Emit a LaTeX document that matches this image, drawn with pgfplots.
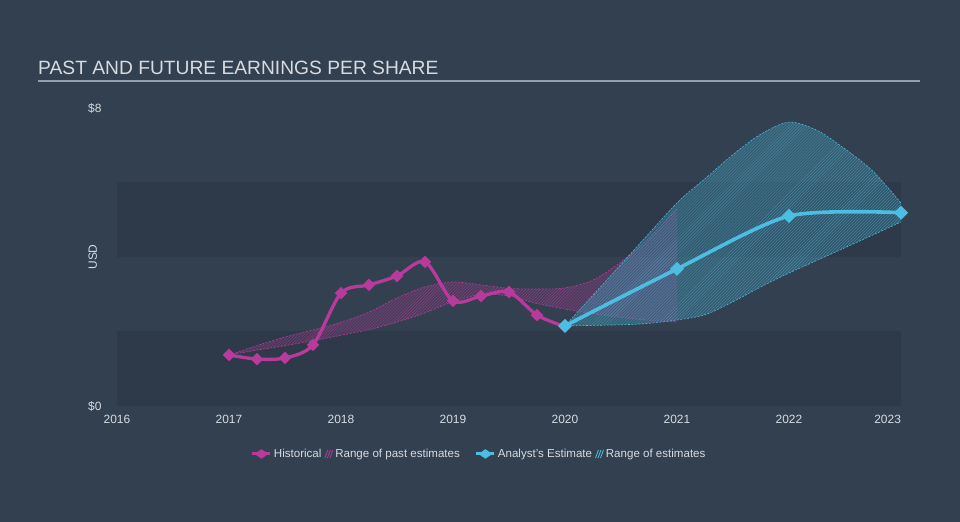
\documentclass[border=0pt]{standalone}
\usepackage{fontspec}
\setmainfont{Liberation Sans}
\usepackage{pgfplots}
\pgfplotsset{compat=1.18}
\usepgfplotslibrary{fillbetween}
\usetikzlibrary{patterns}
\definecolor{bg}{RGB}{51,64,80}
\definecolor{band}{RGB}{46,58,73}
\definecolor{histc}{RGB}{184,58,155}
\definecolor{estc}{RGB}{76,190,226}
\definecolor{txt}{RGB}{215,219,224}
\definecolor{axisc}{RGB}{150,160,172}

\begin{document}
\begin{tikzpicture}[x=1bp,y=1bp]
% background and stripes
\fill[bg] (0,0) rectangle (960,522);
\fill[band] (117,116) rectangle (901,190.5);
\fill[band] (117,265) rectangle (901,339.5);
% title
\node[anchor=base west, text=txt, inner sep=0, font=\fontsize{19.3}{22}\selectfont] at (38,447) {PAST AND FUTURE EARNINGS PER SHARE};
\draw[axisc, line width=1.5bp] (38,441) -- (920,441);

\begin{axis}[
    at={(117bp,116bp)}, anchor=south west,
    scale only axis, width=784bp, height=298bp,
    xmin=2016, xmax=2023, ymin=0, ymax=8,
    axis x line*=bottom, axis y line*=left,
    x axis line style={-, axisc, line width=1bp},
    y axis line style={draw=none},
    xtick={2016,...,2023},
    xticklabels={2016,2017,2018,2019,2020,2021,2022,\hbox to 0pt{\hss 2023}},
    xtick style={axisc, line width=1bp},
    tick align=outside, major tick length=6bp,
    ytick={0,8}, yticklabels={\$0,\$8},
    ytick style={draw=none},
    xticklabel style={text=txt, font=\fontsize{12}{14}\selectfont},
    yticklabel style={text=txt, font=\fontsize{12}{14}\selectfont, xshift=-6bp},
    ylabel={USD},
    ylabel style={at={(axis description cs:-0.031,0.5)}, anchor=center, text=txt, font=\fontsize{12}{14}\selectfont},
    legend style={at={(axis description cs:0.462,-0.161)}, anchor=center,
        draw=none, fill=none, text=txt, font=\fontsize{11.6}{13}\selectfont,
        /tikz/every even column/.append style={column sep=1bp}},
    legend columns=4,
    legend cell align=left,
    clip=false,
]

% legend entries
\addlegendimage{legend image code/.code={
    \draw[histc, line width=3bp] (0bp,0bp) -- (18bp,0bp);
    \fill[histc] (9bp,0bp) +(-6.5bp,0bp) -- +(0bp,4.5bp) -- +(6.5bp,0bp) -- +(0bp,-4.5bp) -- cycle;}}
\addlegendentry{Historical}
\addlegendimage{legend image code/.code={
    \draw[histc, line width=0.8bp] (0bp,-4bp) -- (3bp,4bp) (2.5bp,-4bp) -- (5.5bp,4bp) (5bp,-4bp) -- (8bp,4bp);}}
\addlegendentry{Range of past estimates\rule{12bp}{0pt}}
\addlegendimage{legend image code/.code={
    \draw[estc, line width=3bp] (0bp,0bp) -- (18bp,0bp);
    \fill[estc] (9bp,0bp) +(-6.5bp,0bp) -- +(0bp,4.5bp) -- +(6.5bp,0bp) -- +(0bp,-4.5bp) -- cycle;}}
\addlegendentry{Analyst's Estimate}
\addlegendimage{legend image code/.code={
    \draw[estc, line width=0.8bp] (0bp,-4bp) -- (3bp,4bp) (2.5bp,-4bp) -- (5.5bp,4bp) (5bp,-4bp) -- (8bp,4bp);}}
\addlegendentry{Range of estimates}

% range of past estimates
\addplot[name path=pu, histc, line width=0.6bp, dash pattern=on 2bp off 1.5bp, smooth, forget plot] coordinates {
    (2017,1.37) (2017.25,1.62) (2017.5,1.85) (2017.75,2.04) (2018,2.25) (2018.25,2.52)
    (2018.5,2.9) (2018.75,3.2) (2019,3.33) (2019.25,3.25) (2019.5,3.16) (2019.75,3.14)
    (2020,3.17) (2020.25,3.38) (2020.5,3.87) (2020.75,4.5) (2021,5.3)
};
\addplot[name path=pl, histc, line width=0.6bp, dash pattern=on 2bp off 1.5bp, smooth, forget plot] coordinates {
    (2017,1.37) (2017.25,1.5) (2017.5,1.62) (2017.75,1.75) (2018,1.9) (2018.25,2.05)
    (2018.5,2.25) (2018.75,2.5) (2019,2.8) (2019.25,3.0) (2019.5,2.95) (2019.75,2.75)
    (2020,2.6) (2020.25,2.48) (2020.5,2.38) (2020.75,2.3) (2021,2.25)
};
\addplot[histc, fill opacity=0.12, draw=none, forget plot] fill between[of=pu and pl, on layer=main];
\addplot[pattern=north east lines, pattern color=histc!75!bg, draw=none, forget plot] fill between[of=pu and pl, on layer=main];

% range of estimates
\addplot[name path=eu, estc, line width=0.6bp, dash pattern=on 2bp off 1.5bp, smooth, forget plot] coordinates {
    (2020,2.15) (2020.5,3.8) (2021,5.45) (2021.25,6.1) (2021.5,6.75) (2021.75,7.3)
    (2022,7.62) (2022.25,7.4) (2022.5,6.9) (2022.75,6.3) (2023,5.45)
};
\addplot[name path=el, estc, line width=0.6bp, dash pattern=on 2bp off 1.5bp, smooth, forget plot] coordinates {
    (2020,2.15) (2020.5,2.18) (2020.75,2.22) (2021,2.31) (2021.25,2.45) (2021.5,2.8)
    (2021.75,3.2) (2022,3.57) (2022.5,4.25) (2023,4.94)
};
\addplot[estc, fill opacity=0.22, draw=none, forget plot] fill between[of=eu and el, on layer=main];
\addplot[pattern=north east lines, pattern color=estc!60!bg, draw=none, forget plot] fill between[of=eu and el, on layer=main];

% historical
\addplot[histc, line width=3.3bp, smooth, tension=0.5, mark=square*, mark size=2.8bp,
    mark options={rotate=45, solid}, forget plot] coordinates {
    (2017,1.37) (2017.25,1.26) (2017.5,1.29) (2017.75,1.64) (2018,3.03) (2018.25,3.25)
    (2018.5,3.49) (2018.75,3.87) (2019,2.82) (2019.25,2.95) (2019.5,3.06) (2019.75,2.44)
    (2020,2.13)
};

% analyst estimate
\addplot[estc, line width=3.6bp, smooth, tension=0.45, mark=square*, mark size=3.2bp,
    mark options={rotate=45, solid}, forget plot] coordinates {
    (2020,2.15) (2021,3.68) (2022,5.1) (2023,5.19)
};
\end{axis}
\end{tikzpicture}
\end{document}
